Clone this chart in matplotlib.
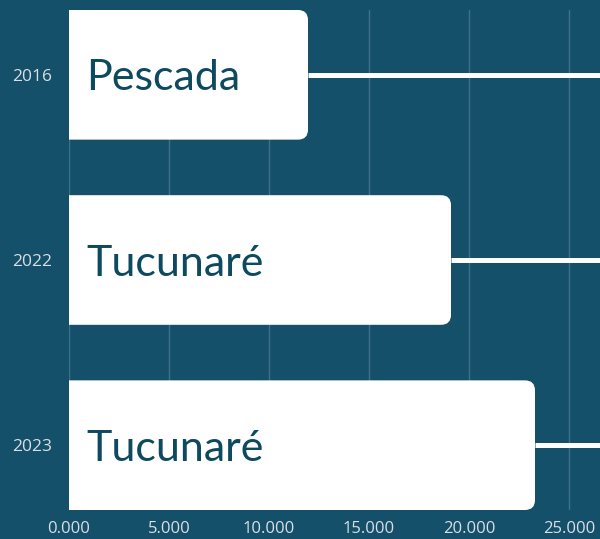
import matplotlib
matplotlib.use('Agg')
import matplotlib.pyplot as plt
from matplotlib.patches import PathPatch
from matplotlib.path import Path
from matplotlib.ticker import FuncFormatter

# data (thousands)
years = ['2016', '2022', '2023']
species = ['Pescada', 'Tucunaré', 'Tucunaré']
values = [11.95, 19.1, 23.3]
xticks = [0, 5, 10, 15, 20, 25]

bg = '#15506b'
txt_dark = '#0e4a5f'
tick_col = '#d9dfe3'

fig = plt.figure(figsize=(6, 5.39), dpi=100)
fig.patch.set_facecolor(bg)
ax = fig.add_axes([69/600, 29/539, 531/600, 500/539])
ax.set_facecolor(bg)

ypos = list(range(len(years)))
bar_h = 0.7
xmax = 26.55
ax.set_xlim(0, xmax)
ax.set_ylim(len(years) - 0.65, -0.35)

# px per data unit, so the right corners come out round
x0, y0 = ax.transData.transform((0, 0))
x1, y1 = ax.transData.transform((1, 1))
r_px = 10
rx = r_px / abs(x1 - x0)
ry = r_px / abs(y1 - y0)


def right_round_bar(v, y, h):
    # bar with square left side and rounded right corners
    yb, yt = y - h/2, y + h/2
    verts = [(0, yb), (v - rx, yb), (v, yb), (v, yb + ry),
             (v, yt - ry), (v, yt), (v - rx, yt), (0, yt), (0, yb)]
    codes = [Path.MOVETO, Path.LINETO, Path.CURVE3, Path.CURVE3,
             Path.LINETO, Path.CURVE3, Path.CURVE3, Path.LINETO, Path.CLOSEPOLY]
    return PathPatch(Path(verts, codes), fc='white', ec='none', zorder=3)


for y, v, name in zip(ypos, values, species):
    # connector line to the right edge
    ax.plot([v, xmax], [y, y], color='white', lw=3.6, zorder=2,
            solid_capstyle='butt')
    ax.add_patch(right_round_bar(v, y, bar_h))
    ax.text(0.85, y, name, color=txt_dark, fontsize=31, family='Lato',
            va='center_baseline', ha='left', zorder=4)

ax.set_xticks(xticks)
ax.xaxis.set_major_formatter(FuncFormatter(lambda x, p: '%.3f' % x))
ax.set_yticks(ypos)
ax.set_yticklabels(years)
ax.tick_params(axis='x', length=0, pad=8, labelsize=12, labelcolor=tick_col)
ax.tick_params(axis='y', length=0, pad=12, labelsize=12.5, labelcolor=tick_col)
for lab in ax.get_xticklabels() + ax.get_yticklabels():
    lab.set_family('Open Sans')

ax.grid(axis='x', color='#3f7089', lw=1, zorder=0)
ax.set_axisbelow(True)
for s in ax.spines.values():
    s.set_visible(False)

fig.savefig('out.png', dpi=100, facecolor=bg)
